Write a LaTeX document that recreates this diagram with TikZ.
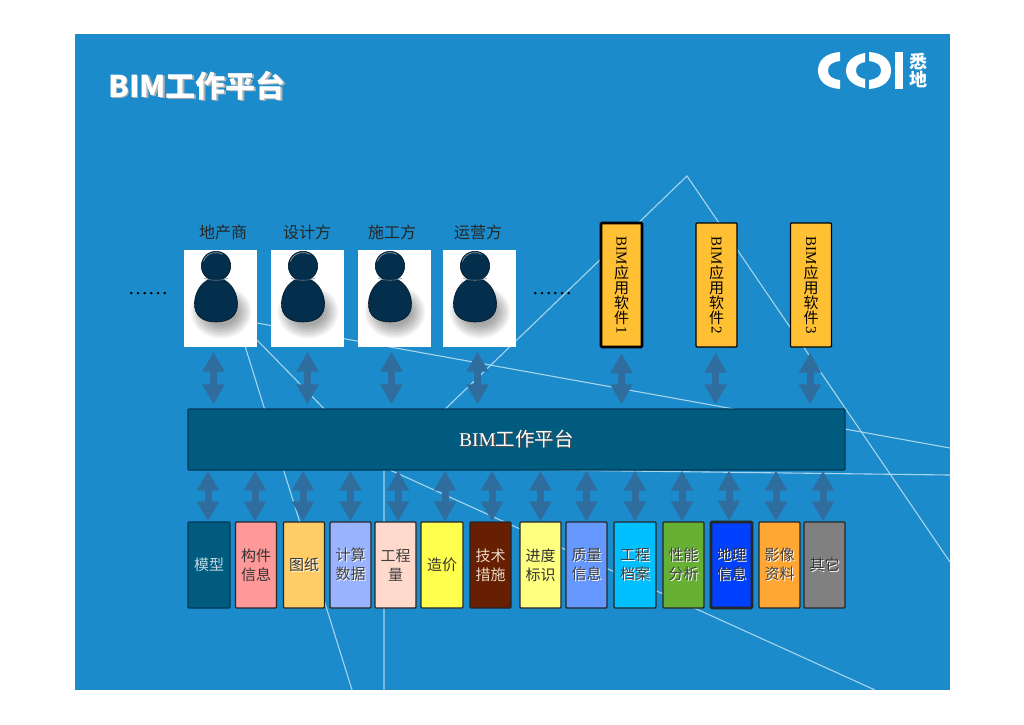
\documentclass[tikz,border=0pt]{standalone}
\usepackage{fontspec}
\setmainfont{Liberation Serif}
\newfontfamily\cjk{Noto Sans CJK SC}
\usetikzlibrary{arrows.meta,positioning,calc}
\definecolor{slidebg}{RGB}{27,139,203}
\definecolor{bgline}{RGB}{168,212,236}
\definecolor{platfill}{RGB}{0,91,127}
\definecolor{platedge}{RGB}{0,56,88}
\definecolor{linkblue}{RGB}{47,109,158}
\definecolor{persondark}{RGB}{3,47,77}
\definecolor{softfill}{RGB}{255,192,51}
\newcommand{\shadetext}[2]{\rlap{\kern1.5pt\raisebox{-1.5pt}{\textcolor{#1}{#2}}}#2}
\newcommand{\glowtext}[1]{\rlap{\kern1pt\raisebox{-1pt}{\textcolor{white!75}{#1}}}#1}
\newcommand{\personfig}[2]{%
  \begin{scope}[shift={(#1,#2)}]
    \foreach \i in {1,...,9}
      \fill[black, opacity=.045] (5,46) ellipse ({15+1.7*\i} and {12+1.6*\i});
    \fill[persondark, draw=black!50!persondark, line width=.6pt]
      (0,12) .. controls (12,12) and (21,24) .. (21.5,37)
      .. controls (22,50) and (13,56) .. (0,56)
      .. controls (-13,56) and (-22,50) .. (-21.5,37)
      .. controls (-21,24) and (-12,12) .. (0,12) -- cycle;
    \fill[persondark, draw=black!50!persondark, line width=.6pt] (0,0) circle (14.7);
    \draw[white!55!persondark, line width=.6pt] (0,0) ++(200:13.5) arc (200:300:13.5);
    \draw[white!45!persondark, line width=.6pt] (-12,12) .. controls (-6,15) and (6,15) .. (12,12);
  \end{scope}}

\begin{document}
\begin{tikzpicture}[
  x=1pt, y=-1pt,
  userlabel/.style={font=\fontsize{16}{18}\selectfont\cjk, text=black!85, inner sep=0pt},
  userbox/.style={fill=white, minimum width=73pt, minimum height=97pt, inner sep=0pt},
  softbox/.style={draw=black, fill=softfill, line width=1.3pt, rounded corners=1pt,
                  minimum width=41pt, minimum height=124pt, inner sep=0pt, align=center,
                  font=\fontsize{15}{15}\selectfont\cjk},
  databox/.style={draw=black!85, line width=1.2pt, rounded corners=1pt, minimum height=86pt,
                  inner sep=0pt, align=center, font=\fontsize{15}{19}\selectfont\cjk,
                  execute at begin node={\vspace*{3pt}}},
  linkarrow/.style={draw=linkblue, line width=7pt,
                    {Triangle[width=21pt,length=20pt]}-{Triangle[width=21pt,length=20pt]}},
  uplink/.style={linkarrow, shorten <=5pt, shorten >=4pt},
  dots/.style={font=\fontsize{20}{22}\selectfont, inner sep=0pt},
]
\useasboundingbox (0,0) rectangle (1024,724);
\fill[slidebg] (75,34) rectangle (950,690);

% lines behind the slide content
\draw[bgline, line width=1.1pt] (384,690) -- (384,468) -- (687,176) -- (950,562);
\draw[bgline, line width=1.1pt] (384,468) -- (950,475);
\draw[bgline, line width=1.1pt] (257,323) -- (950,448);
\draw[bgline, line width=1.1pt] (245,346) -- (352,690);
\draw[bgline, line width=1.1pt] (257,340) -- (379,465) -- (875,690);

% title and logo
\node[anchor=west, inner sep=0pt, text=white, font=\fontsize{30}{32}\selectfont\cjk\bfseries] (title) at (108,86)
  {\shadetext{black!30}{BIM工作平台}};
\fill[white] (840,52) .. controls (826,53) and (818,60) .. (818,70.5)
  .. controls (818,81) and (826,88) .. (840,89) -- (840,80)
  .. controls (832,79) and (828,76) .. (828,70.5)
  .. controls (828,65) and (832,62) .. (840,61) -- cycle;
\fill[white] (865,53) .. controls (854,55) and (846,61) .. (846,70.5)
  .. controls (846,80) and (854,86) .. (865,88) -- (865,79)
  .. controls (859,78) and (856,75) .. (856,70.5)
  .. controls (856,66) and (859,63) .. (865,62) -- cycle;
\fill[white] (869,52) .. controls (883,53) and (891,60) .. (891,70.5)
  .. controls (891,81) and (883,88) .. (869,89) -- (869,80)
  .. controls (877,79) and (881,76) .. (881,70.5)
  .. controls (881,65) and (877,62) .. (869,61) -- cycle;
\fill[white] (895,52) rectangle (903,89);
\node[inner sep=0pt, text=white, align=center, font=\fontsize{18}{18.5}\selectfont\cjk\bfseries] (logotext) at (918,70.5) {悉\\地};

% user side
\node[userlabel] (devlabel) at (223,232) {地产商};
\node[userlabel] (deslabel) at (307,232) {设计方};
\node[userlabel] (conlabel) at (392,232) {施工方};
\node[userlabel] (opslabel) at (478,232) {运营方};
\node[userbox] (dev) at (220.5,298) {};
\node[userbox] (des) at (307.5,298) {};
\node[userbox] (con) at (394.5,298) {};
\node[userbox] (ops) at (479.5,298) {};
\personfig{216}{266}
\personfig{303}{266}
\personfig{390}{266}
\personfig{475}{266}
\node[dots] (dotsl) at (148,294) {……};
\node[dots] (dotsr) at (552,294) {……};

% application software
\node[softbox, line width=2.6pt] (soft1) at (621.5,285) {\rotatebox{-90}{\rmfamily BIM}\\应\\用\\软\\件\\[-12pt]\rotatebox{-90}{\rmfamily 1}};
\node[softbox] (soft2) at (716.5,285) {\rotatebox{-90}{\rmfamily BIM}\\应\\用\\软\\件\\[-12pt]\rotatebox{-90}{\rmfamily 2}};
\node[softbox] (soft3) at (811,285) {\rotatebox{-90}{\rmfamily BIM}\\应\\用\\软\\件\\[-12pt]\rotatebox{-90}{\rmfamily 3}};

% platform
\node[draw=platedge, fill=platfill, line width=1.3pt, rounded corners=1pt, minimum width=657pt, minimum height=61pt,
      inner sep=0pt, text=white, font=\fontsize{19.5}{20}\selectfont] (plat) at (516.5,439.5)
  {\raisebox{-2pt}{\shadetext{black!70}{BIM{\cjk 工作平台}}}};

% data boxes
\node[databox, minimum width=42pt, fill=platfill, draw=platedge, text=white!75!platfill] (model) at (209,565) {模型};
\node[databox, minimum width=41pt, fill={rgb,255:red,255;green,153;blue,153}, text=black!80] (part) at (256,565) {构件\\信息};
\node[databox, minimum width=41pt, fill={rgb,255:red,255;green,204;blue,102}, text=black!80] (draft) at (304,565) {\glowtext{图纸}};
\node[databox, minimum width=41pt, fill={rgb,255:red,153;green,179;blue,255}, text=black!75] (calc) at (350.5,565) {\glowtext{计算}\\\glowtext{数据}};
\node[databox, minimum width=41pt, fill={rgb,255:red,255;green,217;blue,204}, text=black!75] (qty) at (395.5,565) {工程\\量};
\node[databox, minimum width=42pt, fill={rgb,255:red,255;green,255;blue,77}, text=black!80] (cost) at (442,565) {造价};
\node[databox, minimum width=41pt, fill={rgb,255:red,102;green,31;blue,0}, text=white!70!brown] (tech) at (490.5,565) {技术\\措施};
\node[databox, minimum width=41pt, fill={rgb,255:red,255;green,255;blue,128}, text=black!80] (prog) at (540.5,565) {进度\\标识};
\node[databox, minimum width=41pt, fill={rgb,255:red,102;green,153;blue,255}, text=black!75] (qual) at (586.5,565) {\glowtext{质量}\\\glowtext{信息}};
\node[databox, minimum width=42pt, fill={rgb,255:red,0;green,191;blue,255}, text=black!75] (arch) at (635,565) {\glowtext{工程}\\\glowtext{档案}};
\node[databox, minimum width=41pt, fill={rgb,255:red,102;green,176;blue,51}, text=black!75] (perf) at (683.5,565) {\glowtext{性能}\\\glowtext{分析}};
\node[databox, minimum width=41pt, line width=2.6pt, fill={rgb,255:red,0;green,64;blue,255}, text=black!80] (geo) at (731.5,565) {\glowtext{地理}\\\glowtext{信息}};
\node[databox, minimum width=41pt, fill={rgb,255:red,255;green,166;blue,51}, text=black!75] (image) at (779.5,565) {\glowtext{影像}\\\glowtext{资料}};
\node[databox, minimum width=41pt, fill=black!50, text=black!80] (other) at (824.5,565) {\glowtext{其它}};

% links to the platform
\draw[uplink] ([xshift=-7pt]dev.south) -- ([xshift=-7pt]dev.south |- plat.north);
\draw[uplink] (des.south) -- (des.south |- plat.north);
\draw[uplink] ([xshift=-3pt]con.south) -- ([xshift=-3pt]con.south |- plat.north);
\draw[uplink] ([xshift=-2pt]ops.south) -- ([xshift=-2pt]ops.south |- plat.north);
\draw[uplink] (soft1.south) -- (soft1.south |- plat.north);
\draw[uplink] ([xshift=-1pt]soft2.south) -- ([xshift=-1pt]soft2.south |- plat.north);
\draw[uplink] ([xshift=-1pt]soft3.south) -- ([xshift=-1pt]soft3.south |- plat.north);
\draw[linkarrow] ([xshift=-1pt]model.north) -- ([xshift=-1pt]model.north |- plat.south);
\draw[linkarrow] ([xshift=-1pt]part.north) -- ([xshift=-1pt]part.north |- plat.south);
\draw[linkarrow] ([xshift=-1pt]draft.north) -- ([xshift=-1pt]draft.north |- plat.south);
\draw[linkarrow] (calc.north) -- (calc.north |- plat.south);
\draw[linkarrow] ([xshift=2.5pt]qty.north) -- ([xshift=2.5pt]qty.north |- plat.south);
\draw[linkarrow] ([xshift=3pt]cost.north) -- ([xshift=3pt]cost.north |- plat.south);
\draw[linkarrow] ([xshift=1.5pt]tech.north) -- ([xshift=1.5pt]tech.north |- plat.south);
\draw[linkarrow] (prog.north) -- (prog.north |- plat.south);
\draw[linkarrow] (qual.north) -- (qual.north |- plat.south);
\draw[linkarrow] (arch.north) -- (arch.north |- plat.south);
\draw[linkarrow] ([xshift=-1.5pt]perf.north) -- ([xshift=-1.5pt]perf.north |- plat.south);
\draw[linkarrow] ([xshift=-2.5pt]geo.north) -- ([xshift=-2.5pt]geo.north |- plat.south);
\draw[linkarrow] ([xshift=-3.5pt]image.north) -- ([xshift=-3.5pt]image.north |- plat.south);
\draw[linkarrow] ([xshift=-1.5pt]other.north) -- ([xshift=-1.5pt]other.north |- plat.south);
\end{tikzpicture}
\end{document}
